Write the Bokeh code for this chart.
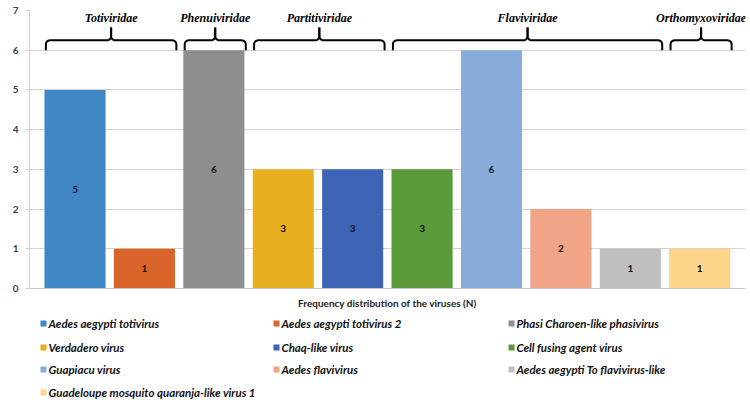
import numpy as np
from bokeh.plotting import figure
from bokeh.layouts import column
from bokeh.models import Range1d, FixedTicker, ColumnDataSource
from bokeh.core.properties import value
from bokeh.embed import file_html
from bokeh.resources import INLINE

# ---- data -------------------------------------------------------------
viruses = [
    "Aedes aegypti totivirus",
    "Aedes aegypti totivirus 2",
    "Phasi Charoen-like phasivirus",
    "Verdadero virus",
    "Chaq-like virus",
    "Cell fusing agent virus",
    "Guapiacu virus",
    "Aedes flavivirus",
    "Aedes aegypti To flavivirus-like",
    "Guadeloupe mosquito quaranja-like virus 1",
]
counts = [5, 1, 6, 3, 3, 3, 6, 2, 1, 1]
colors = [
    "#3F86C4", "#D9652A", "#8E8E8E", "#E8B021", "#3E65B5",
    "#5B9A3A", "#88ADDA", "#F2A586", "#BFBFBF", "#FDD58A",
]
families = ["Totiviridae", "Phenuiviridae", "Partitiviridae", "Flaviviridae", "Orthomyxoviridae"]
family_first = [0, 2, 3, 5, 9]
family_last = [1, 2, 4, 8, 9]
y_ticks = [0, 1, 2, 3, 4, 5, 6, 7]

FONT = "Lato"
SERIF = "Times New Roman"

# ---- main bar chart ---------------------------------------------------
p = figure(
    width=750, height=310, frame_width=716, frame_height=278,
    min_border_left=29, min_border_right=5, min_border_top=10, min_border_bottom=0,
    x_range=Range1d(-0.656, 9.66), y_range=Range1d(0, 7),
    output_backend="svg", toolbar_location=None,
)
p.outline_line_color = None
p.background_fill_color = "white"

idx = list(range(len(counts)))
src = ColumnDataSource(dict(
    x=idx, top=counts, color=colors,
    mid=[c / 2 for c in counts], label=[str(c) for c in counts],
))
p.vbar(x="x", top="top", width=0.88, fill_color="color", line_color=None, source=src)
p.text(x="x", y="mid", text="label", source=src,
       text_font=value(FONT), text_font_style="bold", text_font_size="10px",
       text_color="#111111", text_align="center", text_baseline="middle")

# y axis and grid
p.yaxis.ticker = FixedTicker(ticks=y_ticks)
p.yaxis.axis_line_color = "#D0D0D0"
p.yaxis.major_tick_line_color = "#D0D0D0"
p.yaxis.major_tick_out = 4
p.yaxis.major_tick_in = 0
p.yaxis.minor_tick_line_color = None
p.yaxis.major_label_text_font = FONT
p.yaxis.major_label_text_font_style = "bold"
p.yaxis.major_label_text_font_size = "10px"
p.yaxis.major_label_text_color = "#404040"
p.yaxis.major_label_standoff = 7
p.ygrid.grid_line_color = "#DCCFCF"
p.ygrid.ticker = FixedTicker(ticks=y_ticks)
p.xgrid.grid_line_color = None

# x axis: title only
p.xaxis.ticker = FixedTicker(ticks=[])
p.xaxis.axis_line_color = "#C8C8C8"
p.xaxis.major_tick_line_color = None
p.xaxis.minor_tick_line_color = None
p.xaxis.axis_label = "Frequency distribution of the viruses (N)"
p.xaxis.axis_label_text_font = FONT
p.xaxis.axis_label_text_font_style = "bold"
p.xaxis.axis_label_text_font_size = "10px"
p.xaxis.axis_label_text_color = "#222222"
p.xaxis.axis_label_standoff = 8


# curly braces grouping the bars by virus family
def brace(x0, x1, y0=6.0, y1=6.25, y2=6.57, rx=0.06, ry=0.1):
    xc = (x0 + x1) / 2
    t = np.linspace(0, np.pi / 2, 8)
    lx = [x0] + list(x0 + rx - rx * np.cos(t)) + list(xc - rx + rx * np.sin(t)) + [xc]
    ly = [y0] + list(y1 - ry + ry * np.sin(t)) + list(y1 + ry - ry * np.cos(t)) + [y2]
    rxs = [2 * xc - v for v in lx]
    return lx, ly, rxs, ly


bxs, bys, lab_x = [], [], []
for f0, f1 in zip(family_first, family_last):
    a, b, c, d = brace(f0 - 0.42, f1 + 0.46)
    bxs += [a, c]
    bys += [b, d]
    lab_x.append((f0 - 0.42 + f1 + 0.46) / 2)
p.multi_line(xs=bxs, ys=bys, line_color="black", line_width=2)
p.text(x=lab_x, y=[6.8] * len(families), text=families,
       text_font=value(SERIF), text_font_style="bold italic",
       text_font_size="12px", text_color="black",
       text_align="center", text_baseline="middle")

# ---- legend (3 columns), drawn in pixel coordinates --------------------
leg = figure(
    width=750, height=90, frame_width=716, frame_height=90,
    min_border_left=29, min_border_right=5, min_border_top=0, min_border_bottom=0,
    x_axis_location=None, y_axis_location=None,
    x_range=Range1d(29, 745), y_range=Range1d(90, 0),
    output_backend="svg", toolbar_location=None,
)
leg.grid.visible = False
leg.outline_line_color = None

col_x = [40, 273, 508]
row_y = [12, 36, 58, 81]
sq_x = [col_x[i % 3] + 3 for i in range(len(viruses))]
sq_y = [row_y[i // 3] for i in range(len(viruses))]
txt_x = [col_x[i % 3] + 8 for i in range(len(viruses))]
leg.rect(x=sq_x, y=sq_y, width=6, height=6, fill_color=colors, line_color=None)
leg.text(x=txt_x, y=sq_y, text=viruses,
         text_font=value(FONT), text_font_style="bold italic", text_font_size="11.5px",
         text_color="#111111", text_align="left", text_baseline="middle")

layout = column(p, leg, spacing=0)
open("out.html", "w").write(file_html(layout, INLINE))
